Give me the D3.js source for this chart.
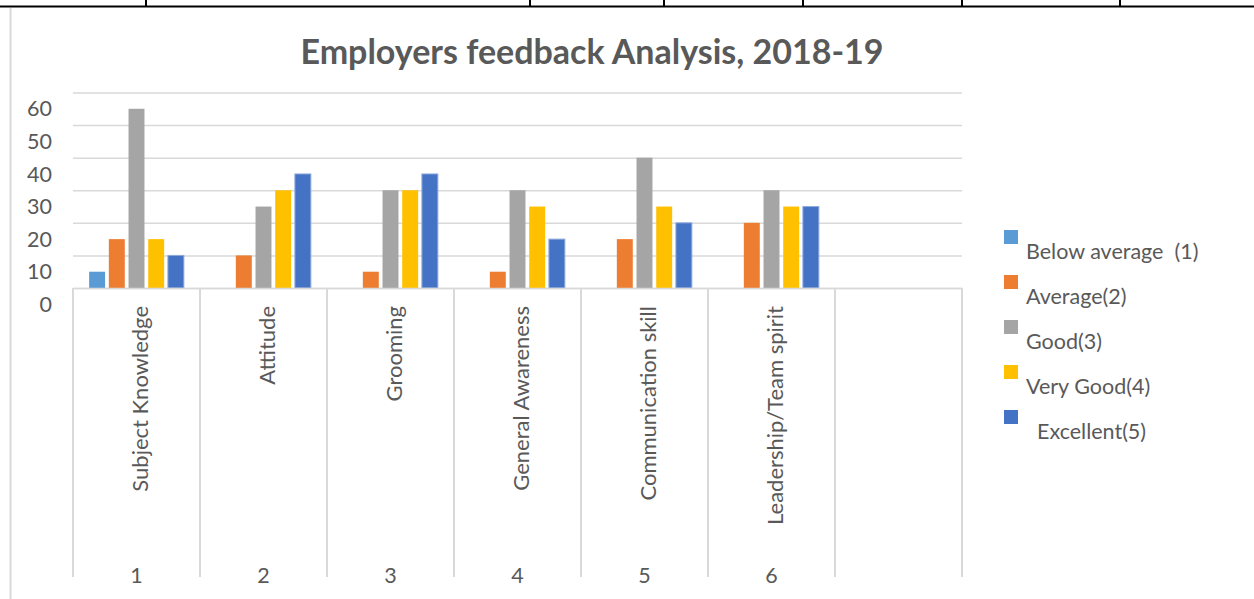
<!DOCTYPE html>
<html><head><meta charset="utf-8">
<script src="https://cdn.jsdelivr.net/npm/d3@7"></script>
<style>
body{margin:0;background:#fff}
svg text{font-family:Lato, "Open Sans", sans-serif; fill:#595959}
</style>
</head><body><svg id="c" width="1254" height="599"></svg>
<script>
const title = "Employers feedback Analysis, 2018-19";
const categories = ["Subject Knowledge","Attitude","Grooming","General Awareness","Communication skill","Leadership/Team spirit",""];
const categoryNumbers = ["1","2","3","4","5","6",""];
const seriesNames = ["Below average  (1)","Average(2)","Good(3)","Very Good(4)","  Excellent(5)"];
const belowAverage = [5,0,0,0,0,0];
const average = [15,10,5,5,15,20];
const good = [55,25,30,30,40,30];
const veryGood = [15,30,30,25,25,25];
const excellent = [10,35,35,15,20,25];
const yTicks = [0,10,20,30,40,50,60];
const colors = ["#5B9BD5","#ED7D31","#A5A5A5","#FFC000","#4472C4"];
const tableTicks = [146,530,664,803,962,1120];

const series = [belowAverage, average, good, veryGood, excellent];
const svg = d3.select("#c");

// page frame pieces (document table remnants)
svg.append("line").attr("x1",0).attr("x2",1254).attr("y1",6.5).attr("y2",6.5)
  .attr("stroke","#000").attr("stroke-width",2.2);
svg.selectAll("line.tt").data(tableTicks).join("line").attr("class","tt")
  .attr("x1",d=>d).attr("x2",d=>d).attr("y1",0).attr("y2",7).attr("stroke","#000").attr("stroke-width",2);
svg.append("line").attr("x1",10.5).attr("x2",10.5).attr("y1",8).attr("y2",599)
  .attr("stroke","#d9d9d9").attr("stroke-width",2);

const pLeft = 73, pRight = 962, pTop = 92.5, pBase = 288;
const x0 = d3.scaleBand().domain(d3.range(categories.length)).range([pLeft,pRight]);
const x1 = d3.scaleBand().domain(d3.range(series.length)).range([0,x0.bandwidth()])
  .paddingInner(0.19).paddingOuter(0.82);
const y = d3.scaleLinear().domain([0,60]).range([pBase,pTop]);
const half = (y(0)-y(10))/2;

// title
svg.append("text").attr("x",592).attr("y",64).attr("text-anchor","middle")
  .attr("font-size",34).attr("font-weight","bold").text(title);

// gridlines
const grid = svg.append("g").attr("transform",`translate(${pLeft},0)`)
  .call(d3.axisLeft(y).tickValues(yTicks).tickSize(-(pRight-pLeft)).tickFormat(""));
grid.select(".domain").remove();
grid.selectAll(".tick line").attr("stroke","#d9d9d9").attr("stroke-width",1.5);

// y labels (offset half a step down as in reference)
const ya = svg.append("g").attr("transform",`translate(${pLeft},0)`)
  .call(d3.axisLeft(y).tickValues(yTicks).tickSize(0).tickPadding(21));
ya.select(".domain").remove();
ya.selectAll(".tick text").attr("font-size",21.5).attr("fill","#595959")
  .attr("font-family","Lato, sans-serif").attr("dy",(0.34*21+half)+"px");

// bars
const groups = svg.append("g").selectAll("g").data(series).join("g")
  .attr("fill",(d,i)=>colors[i]);
groups.selectAll("rect").data((d,i)=>d.map((v,j)=>({v,j,i}))).join("rect")
  .attr("x",d=>x0(d.j)+x1(d.i)).attr("width",x1.bandwidth())
  .attr("y",d=>y(d.v)).attr("height",d=>y(0)-y(d.v))
  .attr("stroke",d=>d.i===4?"#8eaadb":"none").attr("stroke-width",d=>d.i===4?1:0);

// category axis
const xa = svg.append("g").attr("transform",`translate(0,${pBase})`)
  .call(d3.axisBottom(x0).tickSize(0).tickFormat(""));
xa.select(".domain").attr("stroke","#d9d9d9").attr("stroke-width",1.5);
const edges = x0.domain().map(d=>x0(d)).concat([pRight]);
svg.selectAll("line.sep").data(edges).join("line").attr("class","sep")
  .attr("x1",d=>d).attr("x2",d=>d).attr("y1",pBase).attr("y2",577)
  .attr("stroke","#d9d9d9").attr("stroke-width",2);

svg.selectAll("text.cat").data(categories).join("text").attr("class","cat")
  .attr("transform",(d,i)=>`translate(${x0(i)+x0.bandwidth()/2+11},306) rotate(-90)`)
  .attr("text-anchor","end").attr("font-size",22).text(d=>d);
svg.selectAll("text.num").data(categoryNumbers).join("text").attr("class","num")
  .attr("x",(d,i)=>x0(i)+x0.bandwidth()/2).attr("y",583)
  .attr("text-anchor","middle").attr("font-size",21.5).text(d=>d);

// legend
const lg = svg.append("g").selectAll("g").data(seriesNames).join("g")
  .attr("transform",(d,i)=>`translate(1004,${230+i*45})`);
lg.append("rect").attr("width",14).attr("height",14).attr("fill",(d,i)=>colors[i]);
lg.append("text").attr("x",22).attr("y",29).attr("font-size",21.5)
  .style("white-space","pre").text(d=>d);
</script>
</body></html>
